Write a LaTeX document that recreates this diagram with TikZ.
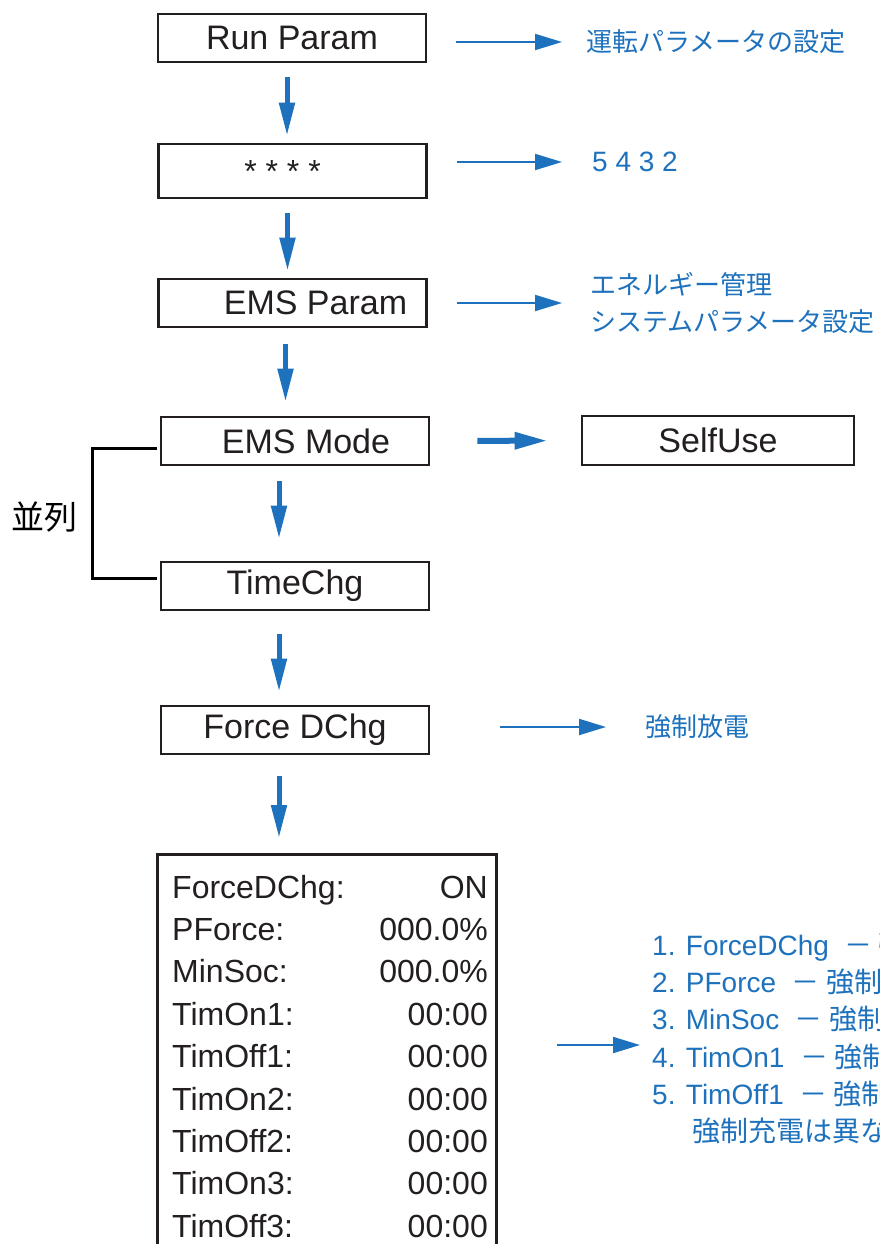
\documentclass[tikz,border=0pt]{standalone}
\usepackage{fontspec}
\setmainfont{Liberation Sans}
\newfontfamily\jp{Noto Sans CJK JP}
\usetikzlibrary{arrows.meta}
\definecolor{arrowblue}{RGB}{30,114,189}
\definecolor{boxline}{RGB}{35,31,32}

\tikzset{
  box/.style={draw=boxline, line width=2.6pt, minimum width=268pt, minimum height=48pt,
    inner sep=0pt, text=boxline, font=\fontsize{34}{40}\selectfont},
  row/.style={inner sep=0pt, text=boxline, font=\fontsize{32}{38}\selectfont},
  downarrow/.style={draw=arrowblue, line width=5pt, -{Triangle[length=33pt,width=15pt]}},
  sidearrow/.style={draw=arrowblue, line width=6pt, -{Triangle[length=33pt,width=16pt]}},
  notearrow/.style={draw=arrowblue, line width=2pt, -{Triangle[length=27pt,width=16pt]}},
  note/.style={text=arrowblue, inner sep=0pt, anchor=west, align=left,
    font=\jp\fontsize{26}{37}\selectfont},
  bracket/.style={draw=black, line width=3pt},
}

\begin{document}
\begin{tikzpicture}[x=1pt,y=-1pt]
  \useasboundingbox (0,0) rectangle (880,1244);
  \clip (0,0) rectangle (880,1244);

  % menu column
  \node[box] (runp) at (292,38) {Run Param};
  \node[box, minimum height=54pt, font=\fontsize{32}{38}\selectfont] (stars) at (292.5,171) {\hspace*{-20pt}* * * *};
  \node[box] (emsp) at (292.5,303) {\hspace*{46pt}EMS Param};
  \node[box] (emsm) at (295,441) {\hspace*{22pt}EMS Mode};
  \node[box] (tchg) at (295,586) {TimeChg};
  \node[box] (fdchg) at (295,730) {Force DChg};
  \node[box, minimum width=272pt, minimum height=49pt] (selfuse) at (718,440.5) {SelfUse};
  \node[box, anchor=north west, minimum width=339pt, minimum height=440pt] (fbox) at (156,853) {};

  % settings list
  \foreach \lbl/\val [count=\i] in {ForceDChg:/ON, PForce:/000.0\%, MinSoc:/000.0\%,
      TimOn1:/00:00, TimOff1:/00:00, TimOn2:/00:00, TimOff2:/00:00, TimOn3:/00:00, TimOff3:/00:00}
  {
    \node[row, anchor=base west] (lbl\i) at (172,{898+42.4*(\i-1)}) {\lbl};
    \node[row, anchor=base east] (val\i) at (488,{898+42.4*(\i-1)}) {\val};
  }

  \foreach \a/\b/\dx/\s/\e in {runp/stars/-5/14/7, stars/emsp/-5/14/7, emsp/emsm/-7/16/14,
      emsm/tchg/-16/15/22, tchg/fdchg/-16/23/13, fdchg/fbox/-16/21/15}
    \draw[downarrow, shorten <=\s pt, shorten >=\e pt]
      ([xshift=\dx pt]\a.south) -- ([xshift=\dx pt]\a.south |- \b.north);

  \draw[sidearrow, shorten <=47pt, shorten >=33pt] (emsm) -- (selfuse);

  % parallel bracket
  \coordinate (brk) at (92,513);
  \draw[bracket] ([shift={(-3,7)}]emsm.west) -| (brk) |- ([shift={(-3,-8)}]tchg.west);
  \node[inner sep=0pt, font=\jp\fontsize{33}{40}\selectfont] (parlbl) at (45,517) {並列};

  % notes
  \node[note] (runpnote) at (586,42) {運転パラメータの設定};
  \node[note, font=\fontsize{28}{34}\selectfont] (starsnote) at (592,162) {5 4 3 2};
  \node[note] (emspnote) at (590,303) {エネルギー管理\\システムパラメータ設定};
  \node[note] (fdchgnote) at (645,727) {強制放電};
  \node[note, font=\fontsize{28}{37.2}\selectfont] (listnote) at (652,1038)
    {1. ForceDChg\ \ {\jp －\ 強制}\\
     2. PForce\ \ {\jp －\ 強制放}\\
     3. MinSoc\ \ {\jp －\ 強制}\\
     4. TimOn1\ \ {\jp －\ 強制時}\\
     5. TimOff1\ \ {\jp －\ 強制時}\\
     \hspace*{40pt}{\jp 強制充電は異な}};

  \foreach \a/\b/\s/\e in {runp/runpnote/29/24, stars/starsnote/29/30,
      emsp/emspnote/29/28, fdchg/fdchgnote/70/39}
    \draw[notearrow, shorten <=\s pt, shorten >=\e pt] (\a.east |- \b.west) -- (\b.west);

  \coordinate (listin) at (640,1045);
  \draw[notearrow, shorten <=59pt] (fbox.east |- listin) -- (listin);
\end{tikzpicture}
\end{document}
